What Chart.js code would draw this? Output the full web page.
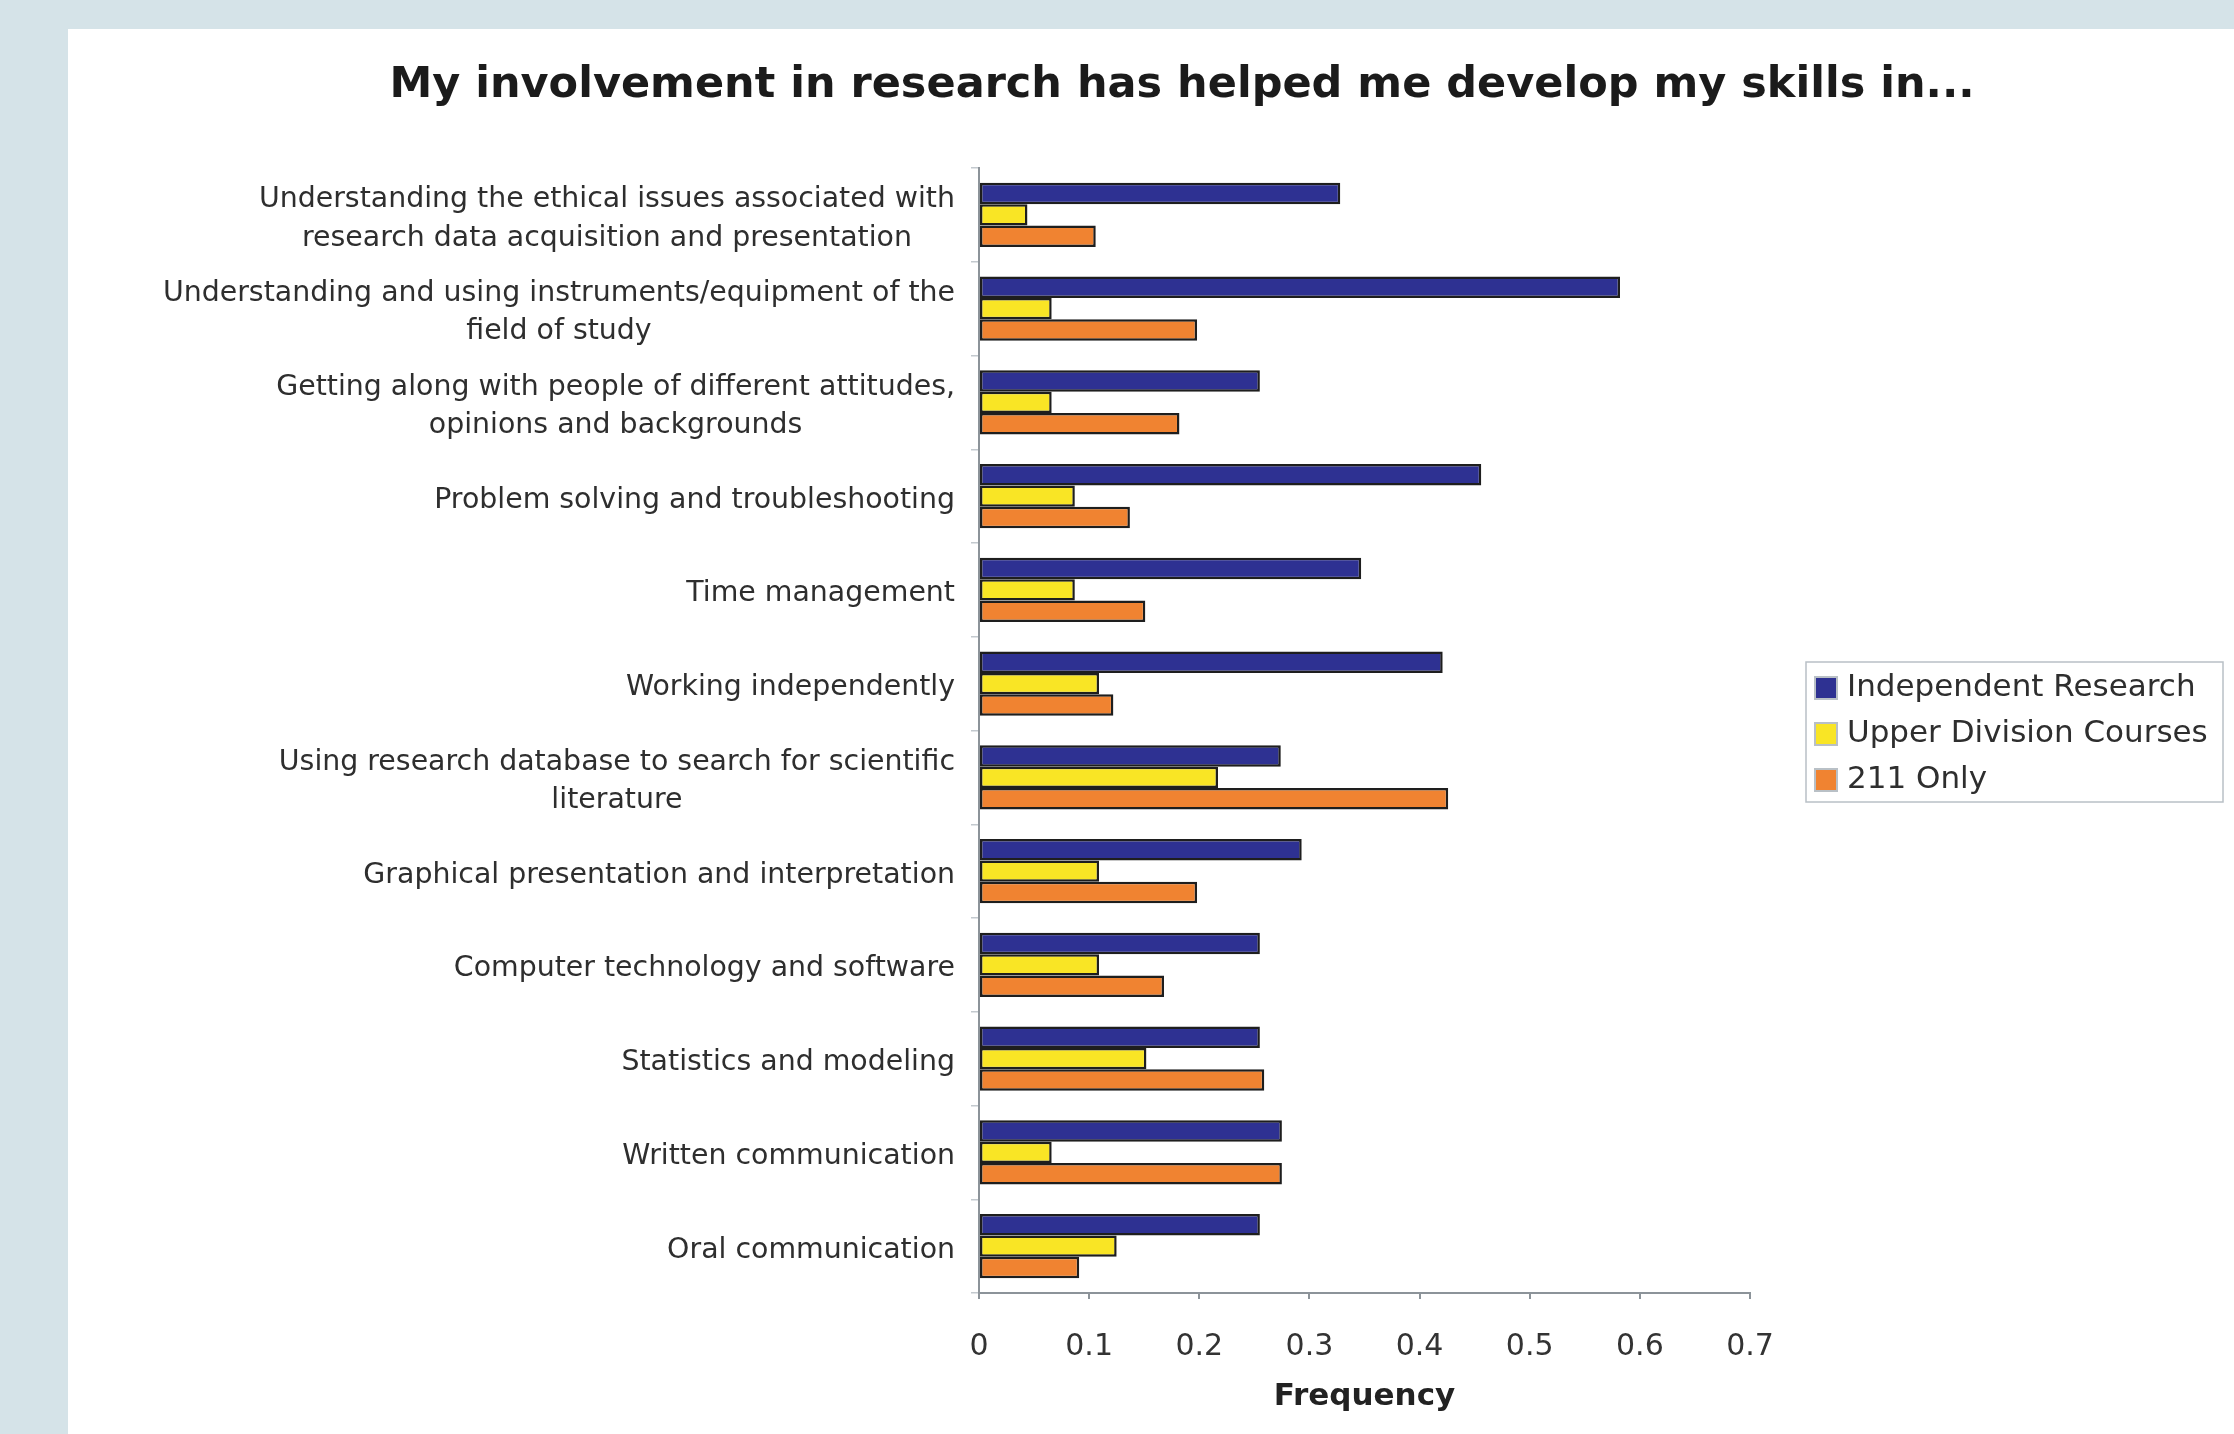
<!DOCTYPE html>
<html>
<head>
<meta charset="utf-8">
<title>Research skills</title>
<script src="https://cdn.jsdelivr.net/npm/chart.js@4/dist/chart.umd.min.js"></script>
<style>
  html, body { margin: 0; padding: 0; }
  body { width: 2234px; height: 1434px; background: #d5e3e8; position: relative; overflow: hidden; }
  #panel { position: absolute; left: 68px; top: 29px; right: 0; bottom: 0; background: #fff; }
  #skills { position: absolute; left: 0; top: 0; }
</style>
</head>
<body>
<div id="panel"></div>
<canvas id="skills" width="2234" height="1434"></canvas>
<script>
const chartTitle = "My involvement in research has helped me develop my skills in...";

const categories = [
    ["Understanding the ethical issues associated with", "research data acquisition and presentation"],
    ["Understanding and using instruments/equipment of the", "field of study"],
    ["Getting along with people of different attitudes,", "opinions and backgrounds"],
    "Problem solving and troubleshooting",
    "Time management",
    "Working independently",
    ["Using research database to search for scientific", "literature"],
    "Graphical presentation and interpretation",
    "Computer technology and software",
    "Statistics and modeling",
    "Written communication",
    "Oral communication"
];

const seriesNames = ["Independent Research", "Upper Division Courses", "211 Only"];
const independentResearch = [0.328, 0.582, 0.255, 0.456, 0.347, 0.421, 0.274, 0.293, 0.255, 0.255, 0.275, 0.255];
const upperDivision = [0.044, 0.066, 0.066, 0.087, 0.087, 0.109, 0.217, 0.109, 0.109, 0.152, 0.066, 0.125];
const only211 = [0.106, 0.198, 0.182, 0.137, 0.151, 0.122, 0.426, 0.198, 0.168, 0.259, 0.275, 0.091];
const xTicks = ["0", "0.1", "0.2", "0.3", "0.4", "0.5", "0.6", "0.7"];

const FONT = "DejaVu Sans";
Chart.defaults.font.family = FONT;
Chart.defaults.color = "#333";

// heading over the whole panel (wider than the plot, so drawn here instead of the title plugin)
const panelTitle = {
    id: "panelTitle",
    afterDraw(chart, args, opts) {
        const ctx = chart.ctx;
        ctx.save();
        ctx.font = "bold " + opts.size + "px '" + FONT + "'";
        ctx.fillStyle = opts.color;
        ctx.textAlign = "center";
        ctx.textBaseline = "middle";
        ctx.fillText(opts.text, opts.x, opts.y);
        ctx.restore();
    }
};

// y labels: block right-aligned against the axis, lines centred inside the block
const categoryLabels = {
    id: "categoryLabels",
    afterDraw(chart, args, opts) {
        const ctx = chart.ctx;
        const y = chart.scales.y;
        const right = chart.chartArea.left - opts.gap;
        ctx.save();
        ctx.font = opts.size + "px '" + FONT + "'";
        ctx.fillStyle = opts.color;
        ctx.textAlign = "center";
        ctx.textBaseline = "middle";
        chart.data.labels.forEach((label, i) => {
            const lines = Array.isArray(label) ? label : [label];
            const w = Math.max(...lines.map(l => ctx.measureText(l).width));
            const cy = y.getPixelForTick(i) + opts.shift;
            lines.forEach((line, j) => {
                ctx.fillText(line, right - w / 2, cy + (j - (lines.length - 1) / 2) * opts.lineHeight);
            });
        });
        ctx.restore();
    }
};

// legend with a thin frame, placed to the right of the plot
const boxedLegend = {
    id: "boxedLegend",
    afterDraw(chart, args, opts) {
        const ctx = chart.ctx;
        ctx.save();
        ctx.strokeStyle = opts.frameColor;
        ctx.lineWidth = 1.5;
        ctx.strokeRect(opts.x, opts.y, opts.width, opts.height);
        ctx.font = opts.size + "px '" + FONT + "'";
        ctx.textAlign = "left";
        ctx.textBaseline = "middle";
        chart.data.datasets.forEach((ds, i) => {
            const cy = opts.y + opts.firstRow + i * opts.rowGap;
            const s = opts.swatch;
            ctx.fillStyle = ds.backgroundColor;
            ctx.fillRect(opts.x + 9, cy - s / 2, s, s);
            ctx.strokeStyle = ds.borderColor;
            ctx.lineWidth = 2;
            ctx.strokeRect(opts.x + 9, cy - s / 2, s, s);
            ctx.fillStyle = opts.color;
            ctx.fillText(ds.label, opts.x + 41, cy);
        });
        ctx.restore();
    }
};

new Chart(document.getElementById("skills"), {
    type: "bar",
    data: {
        labels: categories,
        datasets: [
            { label: seriesNames[0], data: independentResearch, backgroundColor: "#2e3192" },
            { label: seriesNames[1], data: upperDivision, backgroundColor: "#f9e525" },
            { label: seriesNames[2], data: only211, backgroundColor: "#f08331" }
        ]
    },
    options: {
        indexAxis: "y",
        responsive: false,
        animation: false,
        devicePixelRatio: 1,
        layout: { padding: { left: 614, right: 484, top: 168, bottom: 0 } },
        datasets: {
            bar: {
                barPercentage: 1,
                categoryPercentage: 0.683,
                borderColor: "#1e1e1e",
                borderWidth: 2.5,
                borderSkipped: false
            }
        },
        scales: {
            x: {
                min: 0,
                max: 0.7,
                ticks: {
                    stepSize: 0.1,
                    padding: 30,
                    color: "#333",
                    font: { size: 30 },
                    callback: v => xTicks[Math.round(v * 10)]
                },
                grid: { drawOnChartArea: false, tickLength: 6, color: "#8c9399", lineWidth: 2 },
                border: { color: "#8c9399", width: 2 },
                title: {
                    display: true,
                    text: "Frequency",
                    color: "#222",
                    font: { size: 31, weight: "bold" },
                    padding: { top: 0, bottom: 18 }
                },
                afterFit: s => { s.height = 141; }
            },
            y: {
                ticks: { display: false },
                grid: { drawOnChartArea: false, offset: true, tickLength: 8, color: "#c3c9ce", lineWidth: 1.5 },
                border: { color: "#8c9399", width: 2 },
                afterFit: s => { s.width = 365; }
            }
        },
        plugins: {
            legend: { display: false },
            tooltip: { enabled: false },
            title: { display: false },
            panelTitle: { text: chartTitle, x: 1182, y: 86, size: 43, color: "#1b1b1b" },
            categoryLabels: { gap: 24, size: 28.4, lineHeight: 38.5, shift: 4, color: "#2e2e2e" },
            boxedLegend: {
                x: 1806, y: 662, width: 417, height: 140,
                firstRow: 26, rowGap: 46, swatch: 22,
                size: 31, color: "#2e2e2e", frameColor: "#b9c0c6"
            }
        }
    },
    plugins: [panelTitle, categoryLabels, boxedLegend]
});
</script>
</body>
</html>
